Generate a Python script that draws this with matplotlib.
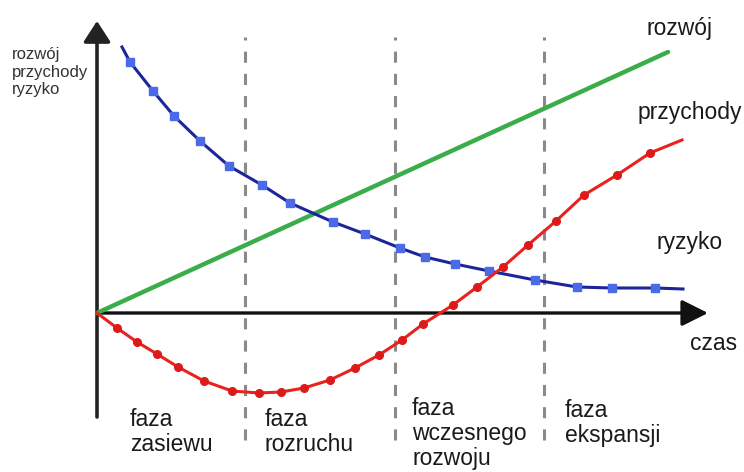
import matplotlib
matplotlib.use("Agg")
import matplotlib.pyplot as plt

plt.rcParams['font.family'] = ['Liberation Sans', 'DejaVu Sans']
plt.rcParams['lines.scale_dashes'] = False

# ---- data (arbitrary units: time vs. value, origin at axes crossing) ----
rozwoj_t = [0, 571]
rozwoj_v = [0, 261]

ryzyko_t = [25, 33, 56, 77, 103, 132, 165, 193, 236, 268, 303, 328, 358, 392, 438, 480, 515, 558, 586]
ryzyko_v = [266, 251, 222, 197, 172, 147, 128, 110, 91, 79, 65, 56, 49, 42, 33, 26, 25, 25, 24]

przychody_t = [0, 20, 40, 60, 81, 107, 135, 162, 184, 207, 233, 258, 282, 305, 326, 356, 380, 406,
               431, 459, 487, 520, 553, 585]
przychody_v = [0, -15, -29, -41, -54, -68, -78, -80, -79, -75, -67, -55, -42, -27, -11, 8, 26, 46,
               68, 92, 118, 138, 160, 173]

phase_bounds = [148, 298, 447]
phase_labels = ["faza\nzasiewu", "faza\nrozruchu", "faza\nwczesnego\nrozwoju", "faza\nekspansji"]
phase_label_t = [33, 168, 315, 468]
phase_label_top = [-95, -95, -84, -86]

series_labels = ["rozwój", "przychody", "ryzyko"]
axis_label_y = "rozwój\nprzychody\nryzyko"
axis_label_x = "czas"

fig = plt.figure(figsize=(7.44, 4.72), dpi=100)
ax = fig.add_axes([0, 0, 1, 1])
ax.set_xlim(-97, 647)
ax.set_ylim(-159, 313)
ax.axis('off')

# dashed phase separators
for b in phase_bounds:
    ax.plot([b, b], [-127, 276], color='#8a8a8a', lw=2.2, dashes=(8, 8), zorder=1)

# axes arrows
ax.annotate('', xy=(611, 0), xytext=(0, 0),
            arrowprops=dict(arrowstyle='-|>,head_length=1.0,head_width=0.5', lw=2.4,
                            color='#111111', mutation_scale=16, shrinkA=0, shrinkB=0), zorder=2)
ax.annotate('', xy=(0, 292), xytext=(0, -104),
            arrowprops=dict(arrowstyle='-|>,head_length=0.85,head_width=0.55', lw=2.6,
                            color='#222222', mutation_scale=15, shrinkA=0, shrinkB=0), zorder=2)

# curves
ax.plot(rozwoj_t, rozwoj_v, color='#3aac4a', lw=3.2, solid_capstyle='round', zorder=3)
ax.plot(ryzyko_t, ryzyko_v, color='#1c259a', lw=2.2, zorder=4,
        marker='s', markersize=5.5, markerfacecolor='#4a6ae8', markeredgecolor='#4a6ae8',
        markevery=list(range(1, len(ryzyko_t) - 1)))
ax.plot(przychody_t, przychody_v, color='#e8221e', lw=2.2, zorder=5,
        marker='o', markersize=5.5, markerfacecolor='#dd1a1a', markeredgecolor='#dd1a1a',
        markevery=list(range(1, len(przychody_t) - 1)))

# texts
tc = '#1a1a1a'
ax.text(-85, 241, axis_label_y, fontsize=12, color='#333333', ha='left', va='center',
        linespacing=1.2)
ax.text(550, 285, series_labels[0], fontsize=16.5, color=tc, ha='left', va='center')
ax.text(541, 200, series_labels[1], fontsize=16.5, color=tc, ha='left', va='center')
ax.text(560, 70, series_labels[2], fontsize=16.5, color=tc, ha='left', va='center')
ax.text(593, -30, axis_label_x, fontsize=16.5, color=tc, ha='left', va='center')

for t, top, lab in zip(phase_label_t, phase_label_top, phase_labels):
    ax.text(t, top, lab, fontsize=16.5, color=tc, ha='left', va='top', linespacing=1.12)

fig.savefig('out.png', dpi=100)
